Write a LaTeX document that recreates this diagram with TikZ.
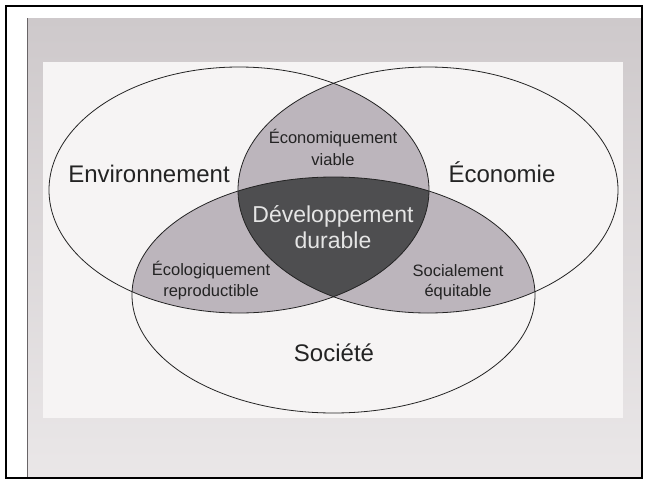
\documentclass[tikz,border=0pt]{standalone}
\usepackage{fontspec}
\setmainfont{Liberation Sans}
\usetikzlibrary{positioning}
\usetikzlibrary{calc}

\definecolor{framegray}{RGB}{105,101,103}
\definecolor{paneltop}{RGB}{206,201,203}
\definecolor{panelbottom}{RGB}{234,231,232}
\definecolor{innerwhite}{RGB}{246,244,244}
\definecolor{lensgray}{RGB}{188,181,188}
\definecolor{coregray}{RGB}{78,78,80}
\definecolor{inkgray}{RGB}{35,35,35}

\tikzset{
    bigset/.style={font=\fontsize{24}{26}\selectfont, text=inkgray, anchor=base, inner sep=0pt},
    lensset/.style={font=\fontsize{16.5}{18}\selectfont, text=inkgray, anchor=base, inner sep=0pt},
    coreset/.style={font=\fontsize{23}{26}\selectfont, text=white!90!black, anchor=base, inner sep=0pt},
    rim/.style={draw=inkgray, line width=0.8pt}
}

\def\envellipse{(239,190) ellipse [x radius=190pt, y radius=123pt]}
\def\ecoellipse{(428,190) ellipse [x radius=190pt, y radius=123pt]}
\def\socellipse{(333.5,295) ellipse [x radius=201.5pt, y radius=118pt]}

\begin{document}
\begin{tikzpicture}[x=1pt, y=-1pt]
        \useasboundingbox (0,0) rectangle (646,485);
        \fill[white] (0,0) rectangle (646,485);
        \shade[top color=paneltop, bottom color=panelbottom] (27,18) rectangle (641,477);
        \draw[framegray, line width=1pt] (27,18) -- (27,477);
        \draw[black, line width=2pt] (6,6) rectangle (642,478);
        \fill[innerwhite] (43,62) rectangle (623,418);

        \begin{scope}
            \clip \envellipse;
            \fill[lensgray] \ecoellipse;
            \fill[lensgray] \socellipse;
        \end{scope}
        \begin{scope}
            \clip \ecoellipse;
            \fill[lensgray] \socellipse;
        \end{scope}
        \begin{scope}
            \clip \envellipse;
            \clip \ecoellipse;
            \fill[coregray] \socellipse;
        \end{scope}
        \draw[rim] \envellipse;
        \draw[rim] \ecoellipse;
        \draw[rim] \socellipse;

        \node[bigset] (environnement) at (149,182) {Environnement};
        \node[bigset] (economie) at (502,182) {Économie};
        \node[bigset] (societe) at (334,361) {Société};
        \node[lensset] (viable1) at (333,143) {Économiquement};
        \node[lensset] (viable2) at (333,165) {viable};
        \node[lensset] (reprod1) at (211,275) {Écologiquement};
        \node[lensset] (reprod2) at (211,296) {reproductible};
        \node[lensset] (equit1) at (458,276) {Socialement};
        \node[lensset] (equit2) at (458,296) {équitable};
        \node[coreset] (durable1) at (333,222) {Développement};
        \node[coreset] (durable2) at (333,248) {durable};
\end{tikzpicture}
\end{document}
